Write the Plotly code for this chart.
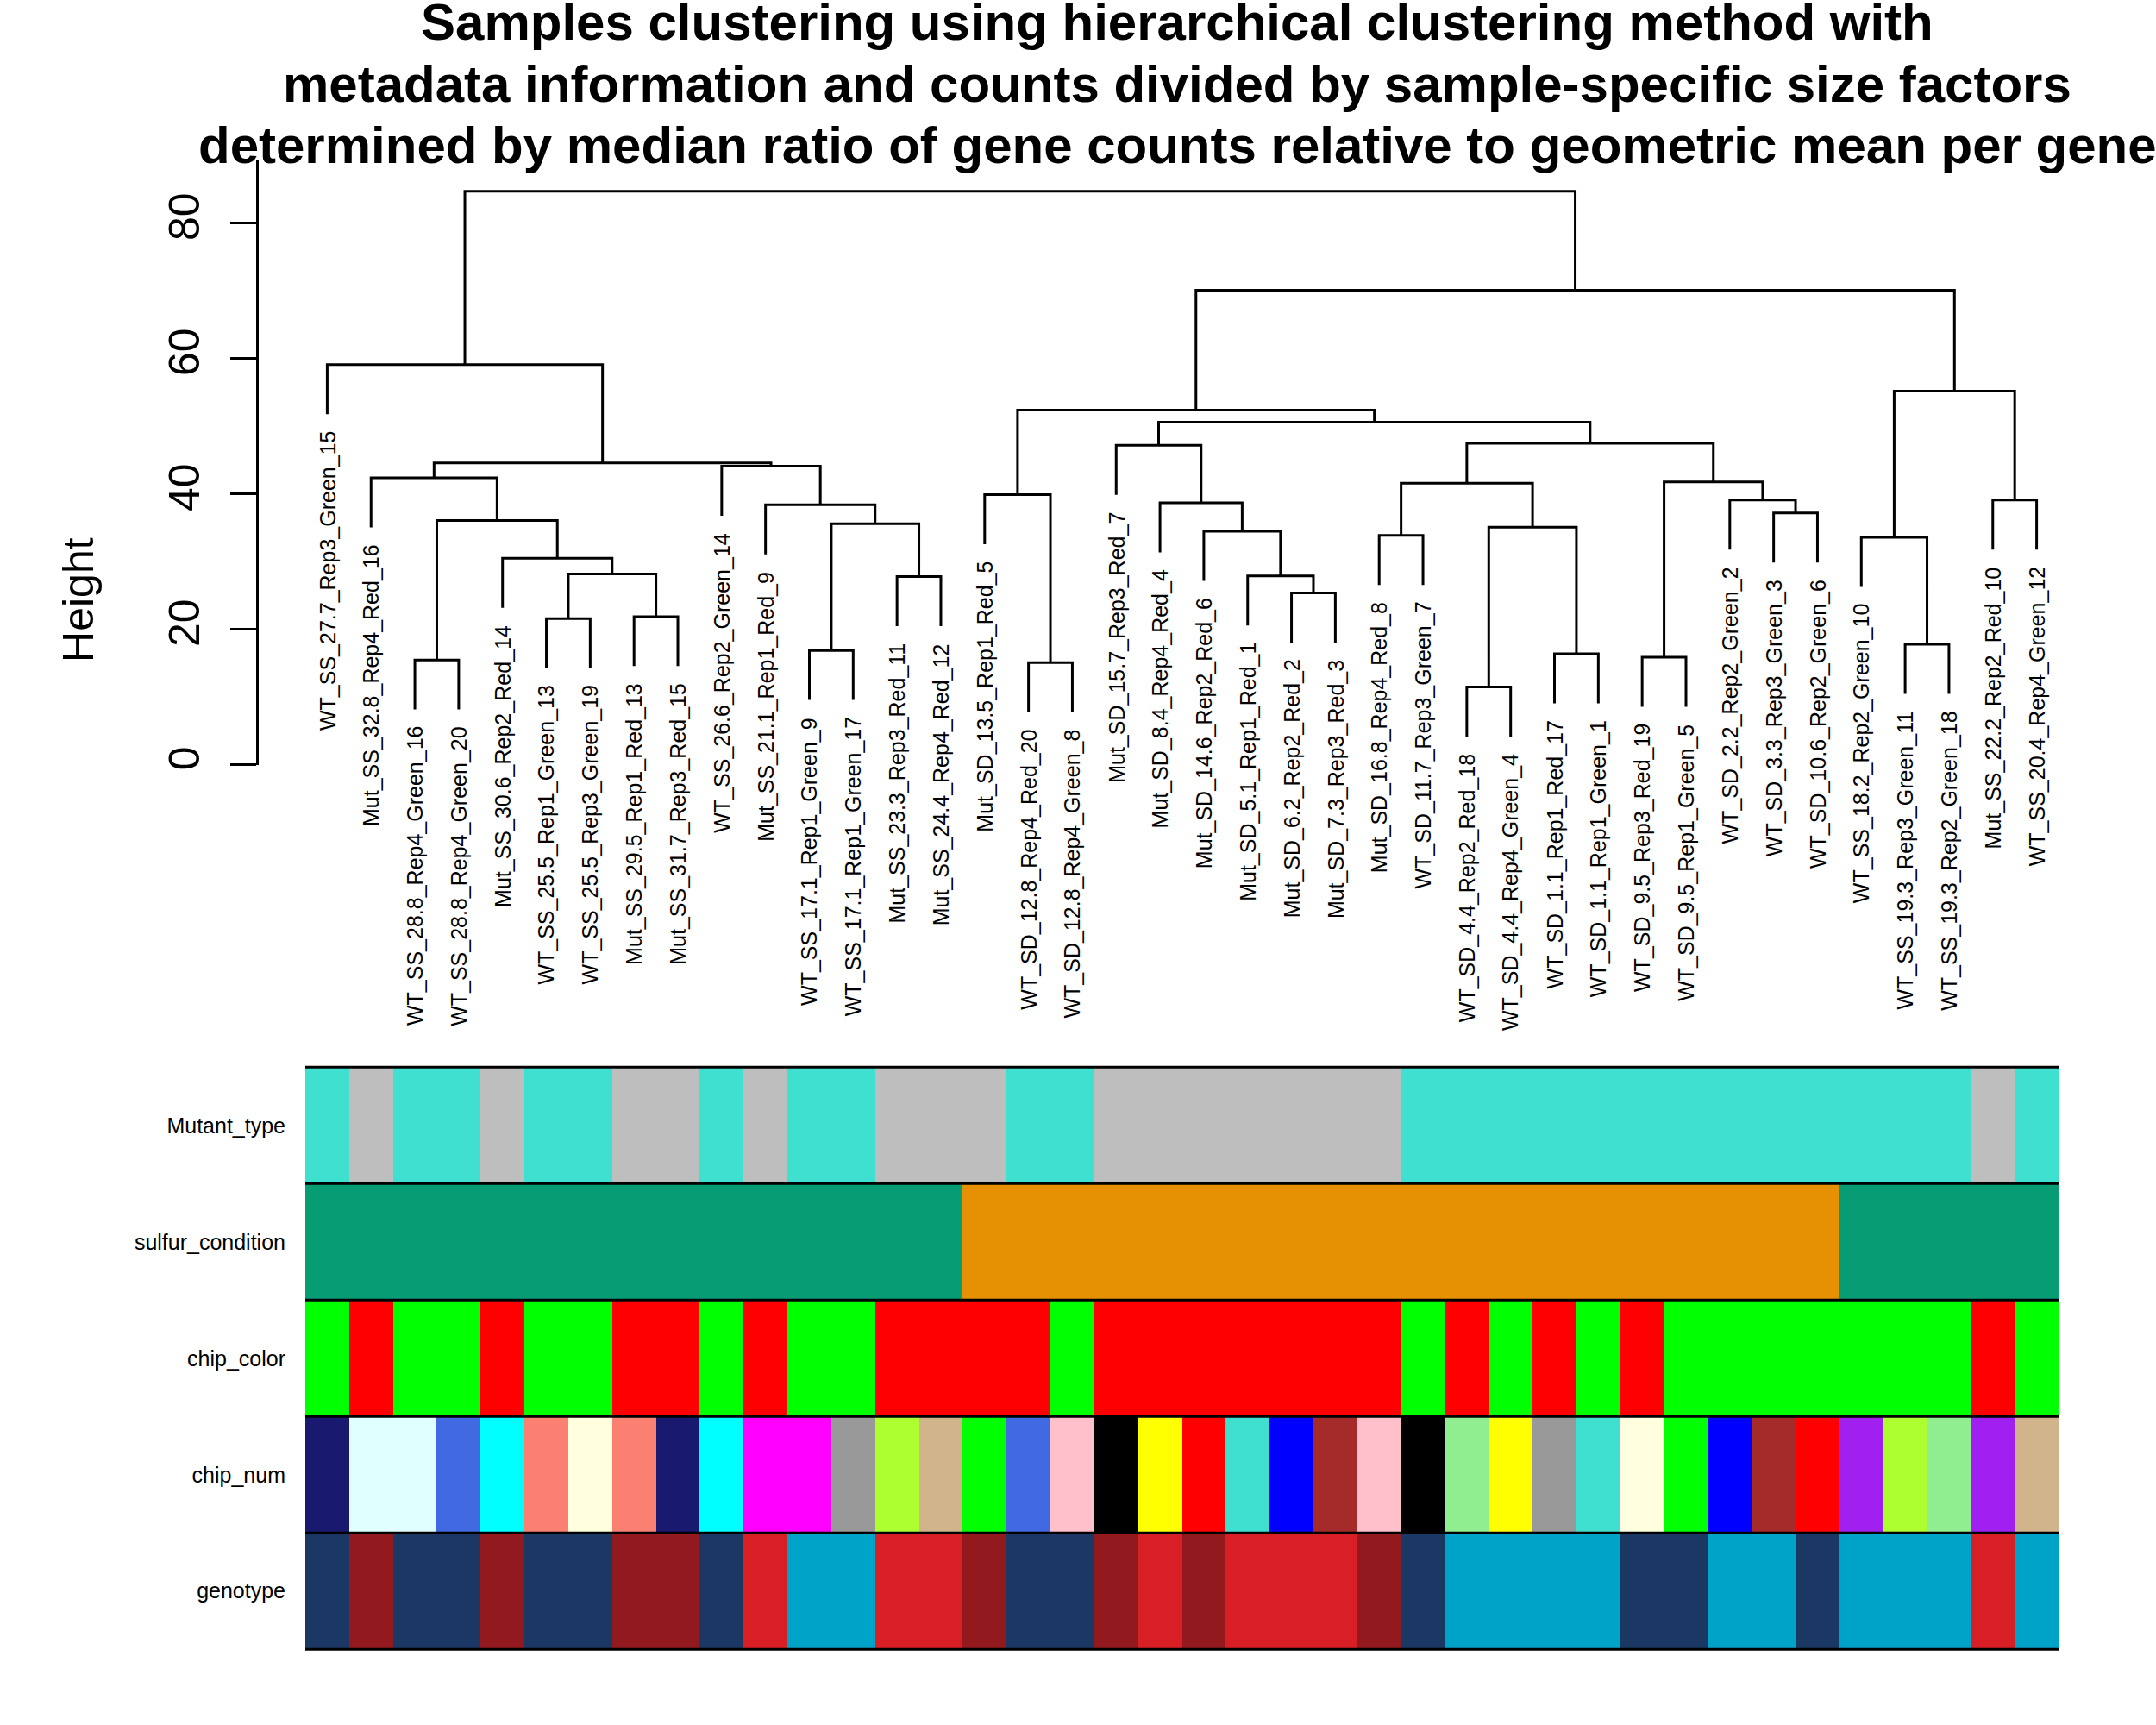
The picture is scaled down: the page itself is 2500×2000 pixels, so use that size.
import plotly.graph_objects as go

# ---------------- data ----------------
sample_labels = [
    "WT_SS_27.7_Rep3_Green_15", "Mut_SS_32.8_Rep4_Red_16", "WT_SS_28.8_Rep4_Green_16",
    "WT_SS_28.8_Rep4_Green_20", "Mut_SS_30.6_Rep2_Red_14", "WT_SS_25.5_Rep1_Green_13",
    "WT_SS_25.5_Rep3_Green_19", "Mut_SS_29.5_Rep1_Red_13", "Mut_SS_31.7_Rep3_Red_15",
    "WT_SS_26.6_Rep2_Green_14", "Mut_SS_21.1_Rep1_Red_9", "WT_SS_17.1_Rep1_Green_9",
    "WT_SS_17.1_Rep1_Green_17", "Mut_SS_23.3_Rep3_Red_11", "Mut_SS_24.4_Rep4_Red_12",
    "Mut_SD_13.5_Rep1_Red_5", "WT_SD_12.8_Rep4_Red_20", "WT_SD_12.8_Rep4_Green_8",
    "Mut_SD_15.7_Rep3_Red_7", "Mut_SD_8.4_Rep4_Red_4", "Mut_SD_14.6_Rep2_Red_6",
    "Mut_SD_5.1_Rep1_Red_1", "Mut_SD_6.2_Rep2_Red_2", "Mut_SD_7.3_Rep3_Red_3",
    "Mut_SD_16.8_Rep4_Red_8", "WT_SD_11.7_Rep3_Green_7", "WT_SD_4.4_Rep2_Red_18",
    "WT_SD_4.4_Rep4_Green_4", "WT_SD_1.1_Rep1_Red_17", "WT_SD_1.1_Rep1_Green_1",
    "WT_SD_9.5_Rep3_Red_19", "WT_SD_9.5_Rep1_Green_5", "WT_SD_2.2_Rep2_Green_2",
    "WT_SD_3.3_Rep3_Green_3", "WT_SD_10.6_Rep2_Green_6", "WT_SS_18.2_Rep2_Green_10",
    "WT_SS_19.3_Rep3_Green_11", "WT_SS_19.3_Rep2_Green_18", "Mut_SS_22.2_Rep2_Red_10",
    "WT_SS_20.4_Rep4_Green_12",
]

# hclust-style merges: negative = leaf (1-based position in dendrogram order),
# positive = earlier merge step (1-based)
merge_left = [-27, -17, -3, -31, -29, -12, -37, -6, -8, -23, -14, -22, 8, -5, -36, -25,
              -21, 1, 6, 3, -34, -11, -20, -33, -39, -16, 16, 4, -2, -10, 29, -19, 27,
              32, 26, 15, -1, 35, 37]
merge_right = [-28, -18, -4, -32, -30, -13, -38, -7, -9, -24, -15, 10, 9, 13, 7, -26,
               12, 5, 11, 14, -35, 19, 17, 21, -40, 2, 18, 24, 20, 22, 30, 23, 28,
               33, 34, 25, 31, 36, 38]
merge_height = [11.5, 15.1, 15.5, 15.9, 16.4, 16.9, 17.8, 21.6, 21.9, 25.4, 27.8, 27.9,
                28.2, 30.5, 33.6, 33.9, 34.5, 35.1, 35.6, 36.1, 37.2, 38.4, 38.7, 39.1,
                39.1, 39.9, 41.6, 41.8, 42.4, 44.1, 44.6, 47.2, 47.5, 50.6, 52.4, 55.2,
                59.1, 70.1, 84.7]

mutant_type = [s.split("_")[0] for s in sample_labels]
sulfur_condition = [s.split("_")[1] for s in sample_labels]
chip_color = [s.split("_")[4] for s in sample_labels]
chip_num = [int(s.split("_")[5]) for s in sample_labels]
genotype = ["WT_G1", "Mut_G1", "WT_G1", "WT_G1", "Mut_G1", "WT_G1", "WT_G1", "Mut_G1",
            "Mut_G1", "WT_G1", "Mut_G2", "WT_G2", "WT_G2", "Mut_G2", "Mut_G2", "Mut_G1",
            "WT_G1", "WT_G1", "Mut_G1", "Mut_G2", "Mut_G1", "Mut_G2", "Mut_G2", "Mut_G2",
            "Mut_G1", "WT_G1", "WT_G2", "WT_G2", "WT_G2", "WT_G2", "WT_G1", "WT_G1",
            "WT_G2", "WT_G2", "WT_G1", "WT_G2", "WT_G2", "WT_G2", "Mut_G2", "WT_G2"]

row_names = ["Mutant_type", "sulfur_condition", "chip_color", "chip_num", "genotype"]

mutant_colors = {"WT": "#40E0D0", "Mut": "#BEBEBE"}
sulfur_colors = {"SS": "#079C74", "SD": "#E69004"}
chipcolor_colors = {"Green": "#00FF00", "Red": "#FF0000"}
chipnum_colors = {1: "#40E0D0", 2: "#0000FF", 3: "#A52A2A", 4: "#FFFF00", 5: "#00FF00",
                  6: "#FF0000", 7: "#000000", 8: "#FFC0CB", 9: "#FF00FF", 10: "#A020F0",
                  11: "#ADFF2F", 12: "#D2B48C", 13: "#FA8072", 14: "#00FFFF",
                  15: "#191970", 16: "#E0FFFF", 17: "#999999", 18: "#90EE90",
                  19: "#FFFFE0", 20: "#4169E1"}
genotype_colors = {"WT_G1": "#1B3864", "WT_G2": "#00A3C8", "Mut_G1": "#921A1E",
                   "Mut_G2": "#D81F26"}

title_lines = [
    "Samples clustering using hierarchical clustering method with",
    "metadata information and counts divided by sample-specific size factors",
    "determined by median ratio of gene counts relative to geometric mean per gene",
]

# ---------------- layout helpers (pixels) ----------------
W, H = 2500, 2000
FONT = "Liberation Sans, Arial, Helvetica, sans-serif"
def px_x(p): return p / W
def px_y(p): return 1 - p / H

bar_left, bar_right = 354, 2387
axis_px = 300
unit_px = (bar_right - bar_left) / 40.0
x0_data = 0.5 - (bar_left - axis_px) / unit_px
y0_px, y80_px = 889.5, 259.5
ppu = (y0_px - y80_px) / 80.0
ytop_px = 186
ymax = (y0_px - ytop_px) / ppu
bars_top, bars_bottom = 1241, 1918

# ---------------- dendrogram geometry ----------------
n = len(sample_labels)
hang = 0.1 * (max(merge_height) - min(merge_height))
node_x, node_h = {}, {}
leaf_bottom = [0.0] * n
xs, ys = [], []
for k in range(len(merge_height)):
    h = merge_height[k]
    pts = []
    for c in (merge_left[k], merge_right[k]):
        if c < 0:
            cx = -c
            cb = h - hang
            leaf_bottom[-c - 1] = cb
        else:
            cx = node_x[c]
            cb = node_h[c]
        pts.append((cx, cb))
    (xa, ya), (xb, yb) = pts
    xs += [xa, xa, xb, xb, None]
    ys += [ya, h, h, yb, None]
    node_x[k + 1] = (xa + xb) / 2.0
    node_h[k + 1] = h

fig = go.Figure()
fig.add_trace(go.Scatter(x=xs, y=ys, mode="lines", line=dict(color="black", width=3),
                         hoverinfo="skip", showlegend=False, xaxis="x", yaxis="y"))

# ---------------- colour bars ----------------
row_values = [
    [mutant_colors[v] for v in mutant_type],
    [sulfur_colors[v] for v in sulfur_condition],
    [chipcolor_colors[v] for v in chip_color],
    [chipnum_colors[v] for v in chip_num],
    [genotype_colors[v] for v in genotype],
]
palette = []
for r in row_values:
    for c in r:
        if c not in palette:
            palette.append(c)
m = len(palette)
colorscale = []
for i, c in enumerate(palette):
    colorscale.append([i / m, c])
    colorscale.append([(i + 1) / m, c])
z = [[palette.index(c) for c in r] for r in row_values]
fig.add_trace(go.Heatmap(z=z, x=list(range(1, n + 1)), y=row_names, colorscale=colorscale,
                         zmin=-0.5, zmax=m - 0.5, showscale=False, hoverinfo="skip",
                         xaxis="x2", yaxis="y2"))

shapes = []
for k in range(len(row_names) + 1):
    shapes.append(dict(type="line", xref="x2", yref="y2 domain", x0=0.5, x1=n + 0.5,
                       y0=k / len(row_names), y1=k / len(row_names),
                       line=dict(color="black", width=3)))

# ---------------- annotations ----------------
annotations = []
label_gap = 2.4
for i, lab in enumerate(sample_labels):
    annotations.append(dict(x=i + 1, y=leaf_bottom[i] - label_gap, xref="x", yref="y",
                            text=lab, showarrow=False, textangle=-90, xanchor="center",
                            yanchor="top", borderpad=0,
                            font=dict(family=FONT, size=25, color="black")))
title_baselines = [45, 117, 189]
for t, b in zip(title_lines, title_baselines):
    annotations.append(dict(x=px_x(1365), y=px_y(b - 0.905 * 60), xref="paper", yref="paper",
                            text="<b>" + t + "</b>", showarrow=False, xanchor="center",
                            yanchor="top", borderpad=0,
                            font=dict(family=FONT, size=60, color="black")))
annotations.append(dict(x=px_x(91), y=px_y(698), xref="paper", yref="paper", text="Height",
                        showarrow=False, textangle=-90, xanchor="center", yanchor="middle",
                        borderpad=0, font=dict(family=FONT, size=50, color="black")))

fig.update_layout(
    width=W, height=H, margin=dict(l=0, r=0, t=0, b=0),
    paper_bgcolor="white", plot_bgcolor="white",
    font=dict(family=FONT, color="black"),
    xaxis=dict(domain=[px_x(axis_px), px_x(bar_right)], range=[x0_data, n + 0.5],
               visible=False, fixedrange=True),
    yaxis=dict(domain=[px_y(y0_px), px_y(ytop_px)], range=[0, ymax],
               tickvals=[0, 20, 40, 60, 80], ticks="outside", ticklen=30, tickwidth=3,
               tickcolor="black", showline=True, linewidth=3, linecolor="black",
               tickangle=-90, tickfont=dict(family=FONT, size=50, color="black"),
               showgrid=False, zeroline=False, anchor="x", ticklabelstandoff=16),
    xaxis2=dict(domain=[px_x(bar_left), px_x(bar_right)], range=[0.5, n + 0.5],
                visible=False, anchor="y2"),
    yaxis2=dict(domain=[px_y(bars_bottom), px_y(bars_top)], type="category",
                autorange="reversed", anchor="x2", ticks="", showline=False,
                showgrid=False, zeroline=False, ticklabelstandoff=22,
                tickfont=dict(family=FONT, size=25, color="black")),
    shapes=shapes, annotations=annotations,
)

fig.write_html("out.html", config={"displayModeBar": False},
               post_script="document.body.style.margin='0px';document.body.style.overflow='hidden';")
